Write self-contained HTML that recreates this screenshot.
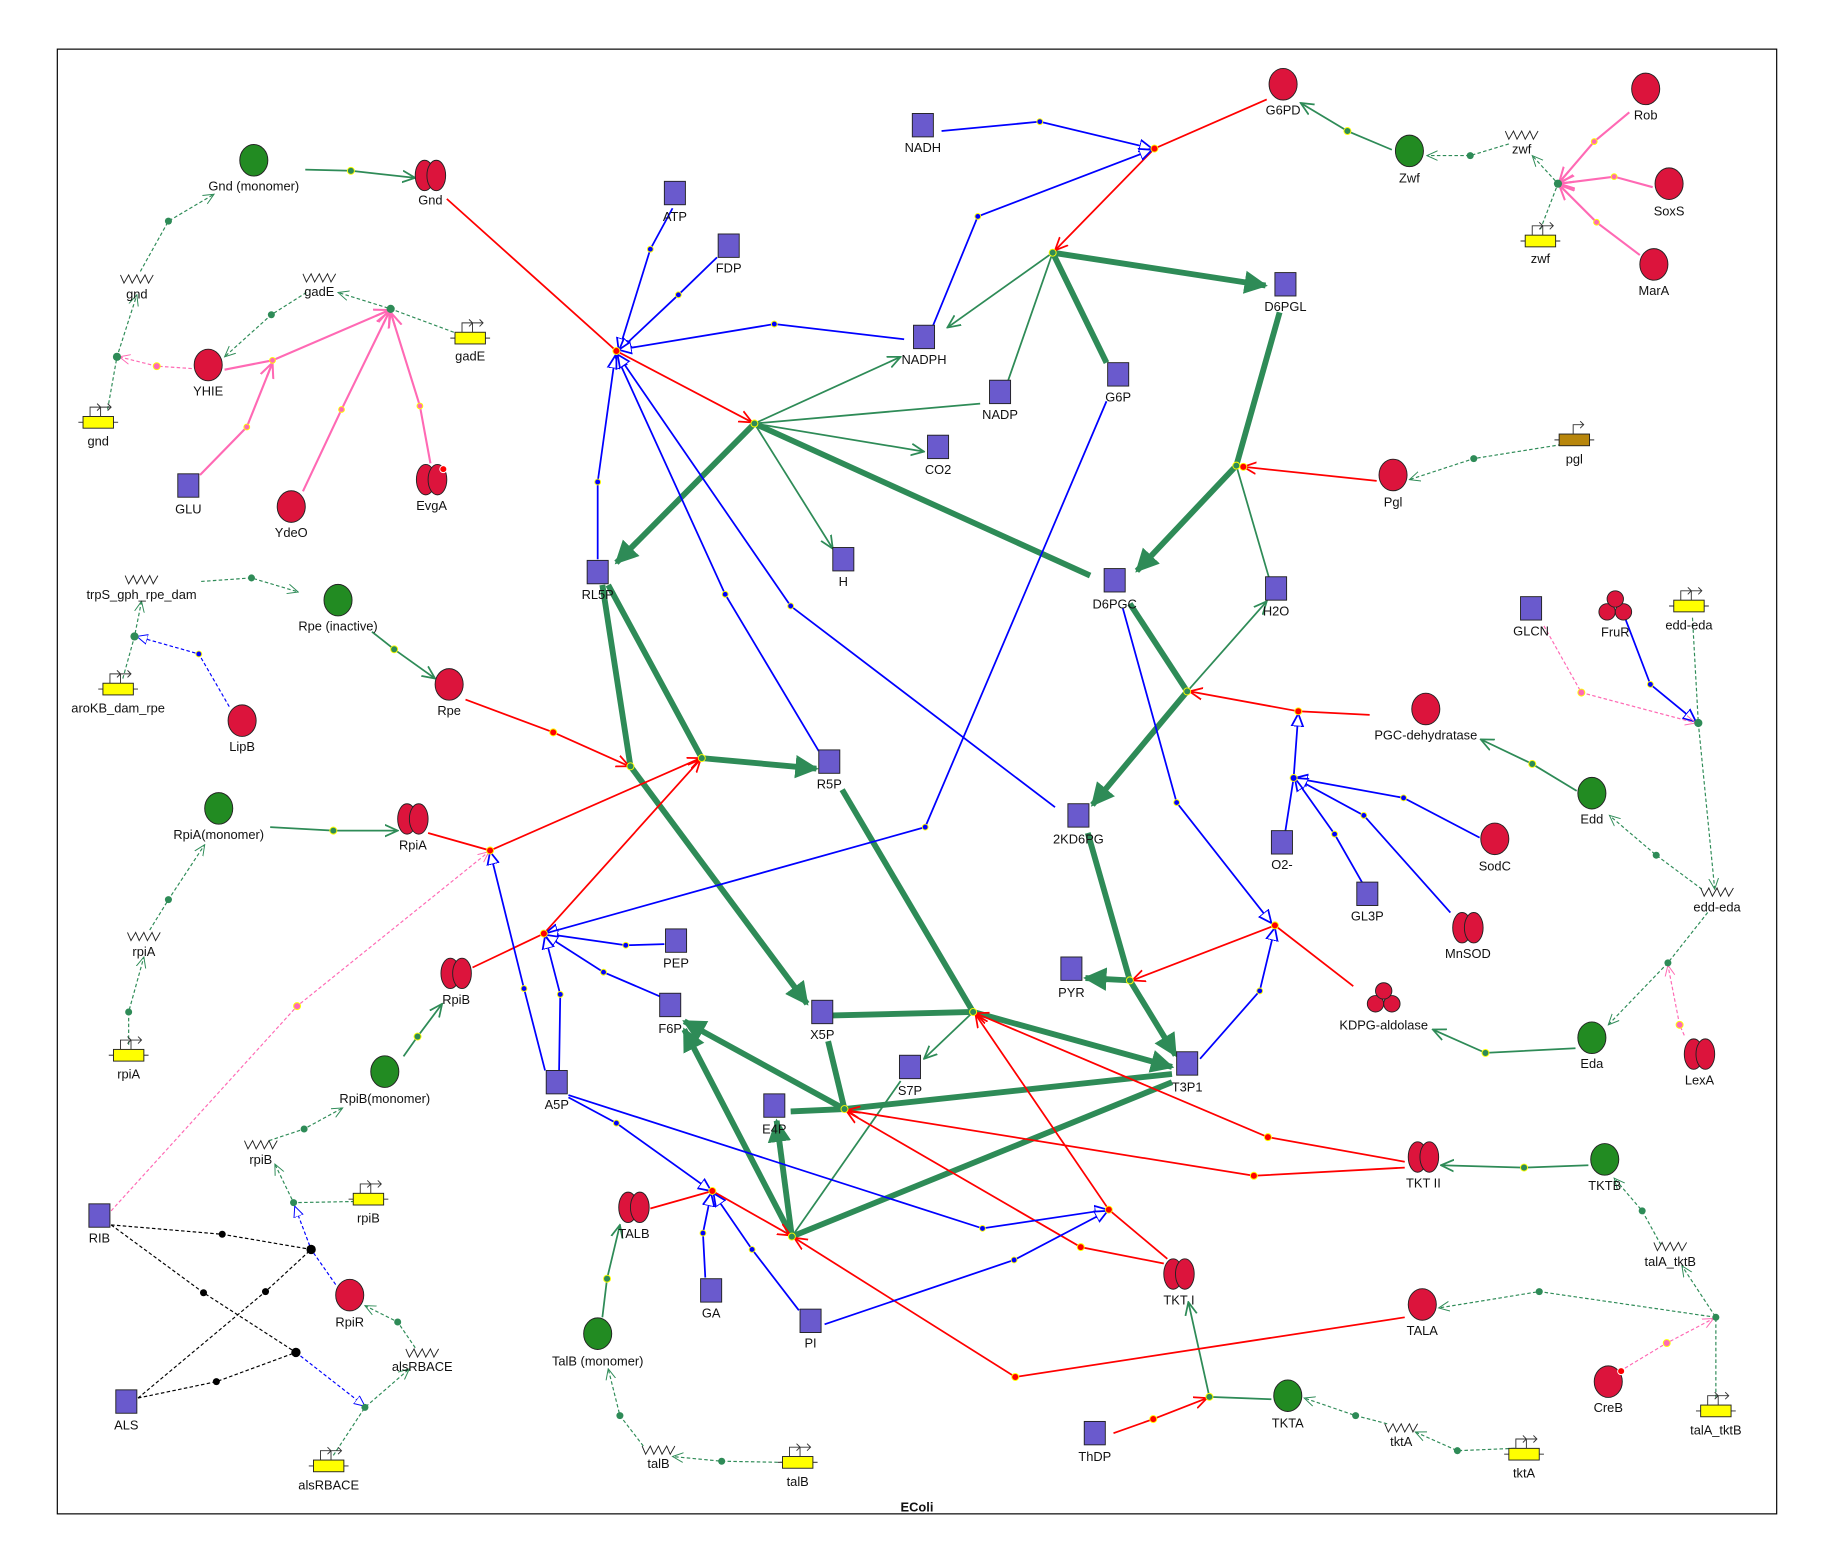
<!DOCTYPE html>
<html><head><meta charset="utf-8"><style>
html,body{margin:0;padding:0;background:#fff}
svg{display:block}
text{font-family:"Liberation Sans",Arial,sans-serif;font-size:11px;fill:#111;text-anchor:middle}
</style></head><body>
<svg width="1834" height="1563" viewBox="0 0 1568 1336" preserveAspectRatio="none" xmlns="http://www.w3.org/2000/svg">
<defs>
<marker id="ag" viewBox="0 0 12 12" refX="11" refY="6" markerWidth="12" markerHeight="12" markerUnits="userSpaceOnUse" orient="auto"><path d="M0,1 L11,6 L0,11" fill="none" stroke="#2e8b57" stroke-width="1.5"/></marker>
<marker id="agt" viewBox="0 0 10 10" refX="9" refY="5" markerWidth="4" markerHeight="4" orient="auto"><path d="M0,0 L10,5 L0,10 z" fill="#2e8b57"/></marker>
<marker id="ar" viewBox="0 0 12 12" refX="11" refY="6" markerWidth="12" markerHeight="12" markerUnits="userSpaceOnUse" orient="auto"><path d="M0,1 L11,6 L0,11" fill="none" stroke="#f00" stroke-width="1.5"/></marker>
<marker id="ab" viewBox="0 0 12 12" refX="11" refY="6" markerWidth="12" markerHeight="12" markerUnits="userSpaceOnUse" orient="auto"><path d="M0,1 L11,6 L0,11 z" fill="#fff" stroke="#00f" stroke-width="1.5"/></marker>
<marker id="ap" viewBox="0 0 12 12" refX="11" refY="6" markerWidth="14" markerHeight="14" markerUnits="userSpaceOnUse" orient="auto"><path d="M0,1 L11,6 L0,11 M0,6 L11,6" fill="none" stroke="#ff69b4" stroke-width="1.5"/></marker>
<marker id="apd" viewBox="0 0 12 12" refX="11" refY="6" markerWidth="10" markerHeight="10" markerUnits="userSpaceOnUse" orient="auto"><path d="M0,1 L11,6 L0,11" fill="none" stroke="#ff69b4" stroke-width="1"/></marker>
<marker id="agd" viewBox="0 0 12 12" refX="11" refY="6" markerWidth="10" markerHeight="10" markerUnits="userSpaceOnUse" orient="auto"><path d="M0,1 L11,6 L0,11" fill="none" stroke="#2e8b57" stroke-width="1"/></marker>
<marker id="abd" viewBox="0 0 12 12" refX="11" refY="6" markerWidth="10" markerHeight="10" markerUnits="userSpaceOnUse" orient="auto"><path d="M0,1 L11,6 L0,11 z" fill="#fff" stroke="#00f" stroke-width="1"/></marker>
<g id="sq"><rect x="-9" y="-10" width="18" height="20" fill="#6a5acd" stroke="#222" stroke-width="0.8"/></g>
<g id="rc"><ellipse rx="12" ry="13.5" fill="#dc143c" stroke="#222" stroke-width="0.8"/></g>
<g id="gc"><ellipse rx="12" ry="13.5" fill="#228b22" stroke="#222" stroke-width="0.8"/></g>
<g id="dm"><ellipse cx="-5" rx="8" ry="13" fill="#dc143c" stroke="#222" stroke-width="0.8"/><ellipse cx="5" rx="8" ry="13" fill="#dc143c" stroke="#222" stroke-width="0.8"/></g>
<g id="tr"><circle cx="-7" cy="5" r="7" fill="#dc143c" stroke="#222" stroke-width="0.8"/><circle cx="7" cy="5" r="7" fill="#dc143c" stroke="#222" stroke-width="0.8"/><circle cx="0" cy="-6" r="7" fill="#dc143c" stroke="#222" stroke-width="0.8"/></g>
<g id="gn"><line x1="-17" y1="0" x2="17" y2="0" stroke="#555"/><rect x="-13" y="-5" width="26" height="10" fill="#ff0" stroke="#222" stroke-width="0.8"/><path d="M-7,-5 V-13 H2 M-1,-16 L2,-13 L-1,-10 M2,-5 V-13 H11 M8,-16 L11,-13 L8,-10" fill="none" stroke="#333" stroke-width="0.8"/></g>
<g id="gnb"><line x1="-17" y1="0" x2="17" y2="0" stroke="#555"/><rect x="-13" y="-5" width="26" height="10" fill="#b8860b" stroke="#222" stroke-width="0.8"/><path d="M-1,-5 V-13 H8 M5,-16 L8,-13 L5,-10" fill="none" stroke="#333" stroke-width="0.8"/></g>
<g id="mr"><polyline points="-14,-4 -11,3 -7,-4 -4,3 0,-4 3,3 7,-4 10,3 14,-4" fill="none" stroke="#222" stroke-width="0.8"/></g>
</defs>
<rect x="49" y="42" width="1470" height="1252" fill="none" stroke="#000" stroke-width="1"/>
<text x="784" y="1292" style="font-weight:bold">EColi</text>

<g fill="none" stroke="#2e8b57" stroke-width="5">
<path d="M900,216 L1082,244" marker-end="url(#agt)"/>
<path d="M900,216 L946,310"/>
<path d="M1094,267 L1057,398"/>
<path d="M1057,398 L972,488" marker-end="url(#agt)"/>
<path d="M932,492 L645,362"/>
<path d="M645,362 L527,481" marker-end="url(#agt)"/>
<path d="M515,500 L539,655"/>
<path d="M539,655 L690,858" marker-end="url(#agt)"/>
<path d="M520,500 L600,648"/>
<path d="M600,648 L698,657" marker-end="url(#agt)"/>
<path d="M712,868 L832,865"/>
<path d="M832,865 L1002,912" marker-end="url(#agt)"/>
<path d="M720,675 L832,865"/>
<path d="M708,890 L722,948"/>
<path d="M722,948 L585,873" marker-end="url(#agt)"/>
<path d="M722,948 L1002,918"/>
<path d="M676,950 L722,948"/>
<path d="M1002,925 L677,1057"/>
<path d="M677,1057 L585,880" marker-end="url(#agt)"/>
<path d="M677,1057 L664,958" marker-end="url(#agt)"/>
<path d="M966,516 L1015,591"/>
<path d="M1015,591 L934,688" marker-end="url(#agt)"/>
<path d="M930,712 L966,838"/>
<path d="M966,838 L1005,902" marker-end="url(#agt)"/>
<path d="M966,838 L928,836" marker-end="url(#agt)"/>
</g>
<g fill="none" stroke="#2e8b57" stroke-width="1.5">
<path d="M645,362 L770,305" marker-end="url(#ag)"/>
<path d="M645,362 L838,345"/>
<path d="M645,362 L790,386" marker-end="url(#ag)"/>
<path d="M645,362 L712,469" marker-end="url(#ag)"/>
<path d="M900,216 L810,280" marker-end="url(#ag)"/>
<path d="M900,216 L862,325"/>
<path d="M1057,398 L1085,494"/>
<path d="M1015,591 L1083,514" marker-end="url(#ag)"/>
<path d="M832,865 L790,905" marker-end="url(#ag)"/>
<path d="M677,1057 L770,924"/>
<path d="M1190,128 L1152,112 L1112,88" marker-end="url(#ag)"/>
<path d="M261,145 L300,146 L355,152" marker-end="url(#ag)"/>
<path d="M318,540 L337,555 L372,580" marker-end="url(#ag)"/>
<path d="M231,707 L285,710 L340,710" marker-end="url(#ag)"/>
<path d="M345,903 L357,886 L378,858" marker-end="url(#ag)"/>
<path d="M515,1126 L519,1093 L530,1047" marker-end="url(#ag)"/>
<path d="M1087,1196 L1034,1194 L1016,1113" marker-end="url(#ag)"/>
<path d="M1358,996 L1303,998 L1232,996" marker-end="url(#ag)"/>
<path d="M1348,676 L1310,653 L1266,632" marker-end="url(#ag)"/>
<path d="M1347,896 L1270,900 L1225,880" marker-end="url(#ag)"/>
</g>
<g fill="none" stroke="#2e8b57" stroke-width="1" stroke-dasharray="3,2">
<path d="M1290,123 L1257,133 L1220,133" marker-end="url(#agd)"/>
<path d="M1317,196 L1332,157 L1310,133" marker-end="url(#agd)"/>
<path d="M1335,380 L1260,392 L1205,410" marker-end="url(#agd)"/>
<path d="M92,350 L100,305 L117,252" marker-end="url(#agd)"/>
<path d="M120,232 L144,189 L183,166" marker-end="url(#agd)"/>
<path d="M388,284 L334,264 L289,250" marker-end="url(#agd)"/>
<path d="M262,250 L232,269 L192,305" marker-end="url(#agd)"/>
<path d="M105,580 L115,544 L121,514" marker-end="url(#agd)"/>
<path d="M172,497 L215,494 L255,506" marker-end="url(#agd)"/>
<path d="M110,893 L110,865 L123,818" marker-end="url(#agd)"/>
<path d="M128,795 L144,769 L175,722" marker-end="url(#agd)"/>
<path d="M303,1027 L251,1028 L235,995" marker-end="url(#agd)"/>
<path d="M230,975 L260,965 L293,947" marker-end="url(#agd)"/>
<path d="M285,1244 L312,1203 L350,1170" marker-end="url(#agd)"/>
<path d="M355,1152 L340,1130 L312,1116" marker-end="url(#agd)"/>
<path d="M670,1250 L617,1249 L575,1245" marker-end="url(#agd)"/>
<path d="M550,1236 L530,1210 L520,1170" marker-end="url(#agd)"/>
<path d="M1295,1238 L1246,1240 L1210,1224" marker-end="url(#agd)"/>
<path d="M1186,1217 L1159,1210 L1115,1195" marker-end="url(#agd)"/>
<path d="M1420,1064 L1404,1035 L1380,1007" marker-end="url(#agd)"/>
<path d="M1467,1195 L1467,1126 L1438,1082" marker-end="url(#agd)"/>
<path d="M1467,1126 L1316,1104 L1230,1118" marker-end="url(#agd)"/>
<path d="M1447,528 L1452,618 L1466,760" marker-end="url(#agd)"/>
<path d="M1455,760 L1416,731 L1376,697" marker-end="url(#agd)"/>
<path d="M1460,780 L1426,823 L1375,876" marker-end="url(#agd)"/>
</g>
<g fill="none" stroke="#f00" stroke-width="1.5">
<path d="M382,170 L527,300 L643,361" marker-end="url(#ar)"/>
<path d="M1083,85 L987,127 L902,214" marker-end="url(#ar)"/>
<path d="M1177,411 L1063,399" marker-end="url(#ar)"/>
<path d="M398,598 L473,626 L538,655" marker-end="url(#ar)"/>
<path d="M366,712 L419,727 L599,648" marker-end="url(#ar)"/>
<path d="M404,827 L465,798 L599,649" marker-end="url(#ar)"/>
<path d="M1171,611 L1110,608 L1017,591" marker-end="url(#ar)"/>
<path d="M1157,843 L1090,791 L968,838" marker-end="url(#ar)"/>
<path d="M556,1033 L609,1018 L676,1056" marker-end="url(#ar)"/>
<path d="M1201,1126 L868,1177 L679,1058" marker-end="url(#ar)"/>
<path d="M1201,993 L1084,972 L834,866" marker-end="url(#ar)"/>
<path d="M1201,998 L1072,1005 L724,949" marker-end="url(#ar)"/>
<path d="M995,1080 L924,1066 L724,950" marker-end="url(#ar)"/>
<path d="M998,1076 L948,1034 L834,867" marker-end="url(#ar)"/>
<path d="M952,1225 L986,1213 L1032,1195" marker-end="url(#ar)"/>
</g>
<g fill="none" stroke="#00f" stroke-width="1.5">
<path d="M805,112 L889,104 L985,127" marker-end="url(#ab)"/>
<path d="M797,280 L836,185 L985,128" marker-end="url(#ab)"/>
<path d="M575,178 L556,213 L529,300" marker-end="url(#ab)"/>
<path d="M613,220 L580,252 L529,300" marker-end="url(#ab)"/>
<path d="M773,290 L662,277 L529,299" marker-end="url(#ab)"/>
<path d="M511,478 L511,412 L526,304" marker-end="url(#ab)"/>
<path d="M700,642 L620,508 L527,304" marker-end="url(#ab)"/>
<path d="M902,690 L676,518 L528,303" marker-end="url(#ab)"/>
<path d="M946,343 L791,707 L466,798" marker-end="url(#ab)"/>
<path d="M568,807 L535,808 L466,798" marker-end="url(#ab)"/>
<path d="M565,852 L516,831 L466,799" marker-end="url(#ab)"/>
<path d="M478,915 L479,850 L466,800" marker-end="url(#ab)"/>
<path d="M466,915 L448,845 L419,728" marker-end="url(#ab)"/>
<path d="M486,938 L527,960 L608,1018" marker-end="url(#ab)"/>
<path d="M603,1092 L601,1054 L608,1020" marker-end="url(#ab)"/>
<path d="M683,1120 L643,1068 L610,1020" marker-end="url(#ab)"/>
<path d="M486,936 L840,1050 L947,1034" marker-end="url(#ab)"/>
<path d="M705,1132 L867,1077 L947,1035" marker-end="url(#ab)"/>
<path d="M1099,710 L1106,665 L1110,610" marker-end="url(#ab)"/>
<path d="M1265,716 L1200,682 L1107,665" marker-end="url(#ab)"/>
<path d="M1165,755 L1141,713 L1107,665" marker-end="url(#ab)"/>
<path d="M1240,780 L1166,697 L1107,665" marker-end="url(#ab)"/>
<path d="M960,520 L1006,686 L1087,789" marker-end="url(#ab)"/>
<path d="M1026,905 L1077,847 L1090,793" marker-end="url(#ab)"/>
<path d="M1390,530 L1411,585 L1450,617" marker-end="url(#ab)"/>
</g>
<g fill="none" stroke="#00f" stroke-width="1" stroke-dasharray="3,2">
<path d="M196,604 L170,559 L117,544" marker-end="url(#abd)"/>
<path d="M287,1098 L266,1068 L252,1031" marker-end="url(#abd)"/>
<path d="M253,1156 L312,1202" marker-end="url(#abd)"/>
</g>
<g fill="none" stroke="#ff69b4" stroke-width="1.8">
<path d="M1393,96 L1363,121 L1333,156" marker-end="url(#ap)"/>
<path d="M1413,160 L1380,151 L1333,157" marker-end="url(#ap)"/>
<path d="M1402,218 L1365,190 L1333,158" marker-end="url(#ap)"/>
<path d="M192,316 L233,308 L333,265" marker-end="url(#ap)"/>
<path d="M171,406 L211,365 L233,310" marker-end="url(#ap)"/>
<path d="M259,420 L292,350 L333,266" marker-end="url(#ap)"/>
<path d="M368,396 L359,347 L334,267" marker-end="url(#ap)"/>
</g>
<g fill="none" stroke="#ff69b4" stroke-width="1" stroke-dasharray="3,2">
<path d="M164,315 L134,313 L102,305" marker-end="url(#apd)"/>
<path d="M95,1035 L254,860 L418,728" marker-end="url(#apd)"/>
<path d="M1320,535 L1352,592 L1450,618" marker-end="url(#apd)"/>
<path d="M1440,885 L1436,876 L1426,825" marker-end="url(#apd)"/>
<path d="M1385,1172 L1425,1148 L1465,1127" marker-end="url(#apd)"/>
</g>
<g fill="none" stroke="#000" stroke-width="1" stroke-dasharray="3,2">
<path d="M95,1047 L190,1055 L266,1068"/>
<path d="M95,1047 L174,1105 L253,1156"/>
<path d="M118,1195 L185,1181 L253,1156"/>
<path d="M118,1195 L227,1104 L266,1068"/>
</g>
<g stroke="#ff0" stroke-width="0.8">
<g fill="#2e8b57"><circle cx="900" cy="216" r="3"/><circle cx="645" cy="362" r="3"/><circle cx="1057" cy="398" r="3"/><circle cx="539" cy="655" r="3"/><circle cx="600" cy="648" r="3"/><circle cx="832" cy="865" r="3"/><circle cx="722" cy="948" r="3"/><circle cx="677" cy="1057" r="3"/><circle cx="1015" cy="591" r="3"/><circle cx="966" cy="838" r="3"/><circle cx="1152" cy="112" r="3"/><circle cx="300" cy="146" r="3"/><circle cx="337" cy="555" r="3"/><circle cx="285" cy="710" r="3"/><circle cx="357" cy="886" r="3"/><circle cx="519" cy="1093" r="3"/><circle cx="1034" cy="1194" r="3"/><circle cx="1303" cy="998" r="3"/><circle cx="1310" cy="653" r="3"/><circle cx="1270" cy="900" r="3"/></g>
<g fill="#2e8b57" stroke="none"><circle cx="1257" cy="133" r="3"/><circle cx="1332" cy="157" r="3.5"/><circle cx="1260" cy="392" r="3"/><circle cx="100" cy="305" r="3.5"/><circle cx="144" cy="189" r="3"/><circle cx="334" cy="264" r="3.5"/><circle cx="232" cy="269" r="3"/><circle cx="115" cy="544" r="3.5"/><circle cx="215" cy="494" r="3"/><circle cx="110" cy="865" r="3"/><circle cx="144" cy="769" r="3"/><circle cx="251" cy="1028" r="3"/><circle cx="260" cy="965" r="3"/><circle cx="312" cy="1203" r="3"/><circle cx="340" cy="1130" r="3"/><circle cx="617" cy="1249" r="3"/><circle cx="530" cy="1210" r="3"/><circle cx="1246" cy="1240" r="3"/><circle cx="1159" cy="1210" r="3"/><circle cx="1404" cy="1035" r="3"/><circle cx="1467" cy="1126" r="3"/><circle cx="1316" cy="1104" r="3"/><circle cx="1452" cy="618" r="3.5"/><circle cx="1416" cy="731" r="3"/><circle cx="1426" cy="823" r="3"/></g>
<g fill="#f00"><circle cx="527" cy="300" r="3"/><circle cx="987" cy="127" r="3"/><circle cx="1063" cy="399" r="3"/><circle cx="473" cy="626" r="3"/><circle cx="419" cy="727" r="3"/><circle cx="465" cy="798" r="3"/><circle cx="1110" cy="608" r="3"/><circle cx="1090" cy="791" r="3"/><circle cx="609" cy="1018" r="3"/><circle cx="868" cy="1177" r="3"/><circle cx="1084" cy="972" r="3"/><circle cx="1072" cy="1005" r="3"/><circle cx="924" cy="1066" r="3"/><circle cx="948" cy="1034" r="3"/><circle cx="986" cy="1213" r="3"/></g>
<g fill="#00f"><circle cx="889" cy="104" r="2.5"/><circle cx="836" cy="185" r="2.5"/><circle cx="556" cy="213" r="2.5"/><circle cx="580" cy="252" r="2.5"/><circle cx="662" cy="277" r="2.5"/><circle cx="511" cy="412" r="2.5"/><circle cx="620" cy="508" r="2.5"/><circle cx="676" cy="518" r="2.5"/><circle cx="791" cy="707" r="2.5"/><circle cx="535" cy="808" r="2.5"/><circle cx="516" cy="831" r="2.5"/><circle cx="479" cy="850" r="2.5"/><circle cx="448" cy="845" r="2.5"/><circle cx="527" cy="960" r="2.5"/><circle cx="601" cy="1054" r="2.5"/><circle cx="643" cy="1068" r="2.5"/><circle cx="840" cy="1050" r="2.5"/><circle cx="867" cy="1077" r="2.5"/><circle cx="1106" cy="665" r="3"/><circle cx="1200" cy="682" r="2.5"/><circle cx="1141" cy="713" r="2.5"/><circle cx="1166" cy="697" r="2.5"/><circle cx="1006" cy="686" r="2.5"/><circle cx="1077" cy="847" r="2.5"/><circle cx="1411" cy="585" r="2.5"/><circle cx="170" cy="559" r="2.5"/></g>
<g fill="#ff69b4"><circle cx="1363" cy="121" r="2.5"/><circle cx="1380" cy="151" r="2.5"/><circle cx="1365" cy="190" r="2.5"/><circle cx="233" cy="308" r="2.5"/><circle cx="211" cy="365" r="2.5"/><circle cx="292" cy="350" r="2.5"/><circle cx="359" cy="347" r="2.5"/><circle cx="134" cy="313" r="3"/><circle cx="254" cy="860" r="3"/><circle cx="1352" cy="592" r="3"/><circle cx="1436" cy="876" r="3"/><circle cx="1425" cy="1148" r="3"/></g>
<g fill="#000" stroke="none"><circle cx="190" cy="1055" r="3"/><circle cx="174" cy="1105" r="3"/><circle cx="185" cy="1181" r="3"/><circle cx="227" cy="1104" r="3"/><circle cx="266" cy="1068" r="4"/><circle cx="253" cy="1156" r="4"/></g>
</g>

<use href="#sq" x="789" y="107"/><text x="789" y="130">NADH</text>
<use href="#sq" x="577" y="165"/><text x="577" y="189">ATP</text>
<use href="#sq" x="623" y="210"/><text x="623" y="233">FDP</text>
<use href="#sq" x="790" y="288"/><text x="790" y="311">NADPH</text>
<use href="#sq" x="855" y="335"/><text x="855" y="358">NADP</text>
<use href="#sq" x="956" y="320"/><text x="956" y="343">G6P</text>
<use href="#sq" x="1099" y="243"/><text x="1099" y="266">D6PGL</text>
<use href="#sq" x="802" y="382"/><text x="802" y="405">CO2</text>
<use href="#sq" x="721" y="478"/><text x="721" y="501">H</text>
<use href="#sq" x="511" y="489"/><text x="511" y="512">RL5P</text>
<use href="#sq" x="953" y="496"/><text x="953" y="520">D6PGC</text>
<use href="#sq" x="1091" y="503"/><text x="1091" y="526">H2O</text>
<use href="#sq" x="1309" y="520"/><text x="1309" y="543">GLCN</text>
<use href="#sq" x="709" y="651"/><text x="709" y="674">R5P</text>
<use href="#sq" x="922" y="697"/><text x="922" y="721">2KD6PG</text>
<use href="#sq" x="1096" y="720"/><text x="1096" y="743">O2-</text>
<use href="#sq" x="1169" y="764"/><text x="1169" y="787">GL3P</text>
<use href="#sq" x="916" y="828"/><text x="916" y="852">PYR</text>
<use href="#sq" x="578" y="804"/><text x="578" y="827">PEP</text>
<use href="#sq" x="573" y="859"/><text x="573" y="883">F6P</text>
<use href="#sq" x="703" y="865"/><text x="703" y="888">X5P</text>
<use href="#sq" x="778" y="912"/><text x="778" y="936">S7P</text>
<use href="#sq" x="1015" y="909"/><text x="1015" y="933">T3P1</text>
<use href="#sq" x="662" y="945"/><text x="662" y="969">E4P</text>
<use href="#sq" x="476" y="925"/><text x="476" y="948">A5P</text>
<use href="#sq" x="608" y="1103"/><text x="608" y="1126">GA</text>
<use href="#sq" x="693" y="1129"/><text x="693" y="1152">PI</text>
<use href="#sq" x="85" y="1039"/><text x="85" y="1062">RIB</text>
<use href="#sq" x="108" y="1198"/><text x="108" y="1222">ALS</text>
<use href="#sq" x="936" y="1225"/><text x="936" y="1249">ThDP</text>
<use href="#sq" x="161" y="415"/><text x="161" y="439">GLU</text>

<use href="#rc" x="1097" y="72"/><text x="1097" y="98">G6PD</text>
<use href="#rc" x="1407" y="76"/><text x="1407" y="102">Rob</text>
<use href="#rc" x="1427" y="157"/><text x="1427" y="184">SoxS</text>
<use href="#rc" x="1414" y="226"/><text x="1414" y="252">MarA</text>
<use href="#rc" x="178" y="312"/><text x="178" y="338">YHIE</text>
<use href="#rc" x="249" y="433"/><text x="249" y="459">YdeO</text>
<use href="#rc" x="1191" y="406"/><text x="1191" y="433">Pgl</text>
<use href="#rc" x="207" y="616"/><text x="207" y="642">LipB</text>
<use href="#rc" x="384" y="585"/><text x="384" y="611">Rpe</text>
<use href="#rc" x="1219" y="606"/><text x="1219" y="632">PGC-dehydratase</text>
<use href="#rc" x="1278" y="717"/><text x="1278" y="744">SodC</text>
<use href="#rc" x="299" y="1107"/><text x="299" y="1134">RpiR</text>
<use href="#rc" x="1216" y="1115"/><text x="1216" y="1141">TALA</text>
<use href="#rc" x="1375" y="1181"/><text x="1375" y="1207">CreB</text>
<circle cx="1386" cy="1172" r="3" fill="#f00" stroke="#fff" stroke-width="0.8"/>

<use href="#gc" x="217" y="137"/><text x="217" y="163">Gnd (monomer)</text>
<use href="#gc" x="1205" y="129"/><text x="1205" y="156">Zwf</text>
<use href="#gc" x="289" y="513"/><text x="289" y="539">Rpe (inactive)</text>
<use href="#gc" x="187" y="691"/><text x="187" y="717">RpiA(monomer)</text>
<use href="#gc" x="329" y="916"/><text x="329" y="943">RpiB(monomer)</text>
<use href="#gc" x="1361" y="678"/><text x="1361" y="704">Edd</text>
<use href="#gc" x="1361" y="887"/><text x="1361" y="913">Eda</text>
<use href="#gc" x="511" y="1140"/><text x="511" y="1167">TalB (monomer)</text>
<use href="#gc" x="1372" y="991"/><text x="1372" y="1017">TKTB</text>
<use href="#gc" x="1101" y="1193"/><text x="1101" y="1220">TKTA</text>

<use href="#dm" x="368" y="150"/><text x="368" y="175">Gnd</text>
<use href="#dm" x="369" y="410"/><text x="369" y="436">EvgA</text>
<circle cx="379" cy="401" r="3" fill="#f00" stroke="#fff" stroke-width="0.8"/>
<use href="#dm" x="353" y="700"/><text x="353" y="726">RpiA</text>
<use href="#dm" x="390" y="832"/><text x="390" y="858">RpiB</text>
<use href="#dm" x="542" y="1032"/><text x="542" y="1058">TALB</text>
<use href="#dm" x="1217" y="989"/><text x="1217" y="1015">TKT II</text>
<use href="#dm" x="1008" y="1089"/><text x="1008" y="1115">TKT I</text>
<use href="#dm" x="1255" y="793"/><text x="1255" y="819">MnSOD</text>
<use href="#dm" x="1453" y="901"/><text x="1453" y="927">LexA</text>
<use href="#tr" x="1381" y="518"/><text x="1381" y="544">FruR</text>
<use href="#tr" x="1183" y="853"/><text x="1183" y="880">KDPG-aldolase</text>

<use href="#gn" x="84" y="361"/><text x="84" y="381">gnd</text>
<use href="#gn" x="402" y="289"/><text x="402" y="308">gadE</text>
<use href="#gn" x="1317" y="206"/><text x="1317" y="225">zwf</text>
<use href="#gnb" x="1346" y="376"/><text x="1346" y="396">pgl</text>
<use href="#gn" x="101" y="589"/><text x="101" y="609">aroKB_dam_rpe</text>
<use href="#gn" x="1444" y="518"/><text x="1444" y="538">edd-eda</text>
<use href="#gn" x="110" y="902"/><text x="110" y="922">rpiA</text>
<use href="#gn" x="315" y="1025"/><text x="315" y="1045">rpiB</text>
<use href="#gn" x="281" y="1253"/><text x="281" y="1273">alsRBACE</text>
<use href="#gn" x="682" y="1250"/><text x="682" y="1270">talB</text>
<use href="#gn" x="1303" y="1243"/><text x="1303" y="1263">tktA</text>
<use href="#gn" x="1467" y="1206"/><text x="1467" y="1226">talA_tktB</text>

<use href="#mr" x="117" y="239"/><text x="117" y="255">gnd</text>
<use href="#mr" x="273" y="238"/><text x="273" y="253">gadE</text>
<use href="#mr" x="1301" y="116"/><text x="1301" y="131">zwf</text>
<use href="#mr" x="121" y="496"/><text x="121" y="512">trpS_gph_rpe_dam</text>
<use href="#mr" x="123" y="801"/><text x="123" y="817">rpiA</text>
<use href="#mr" x="223" y="979"/><text x="223" y="995">rpiB</text>
<use href="#mr" x="361" y="1157"/><text x="361" y="1172">alsRBACE</text>
<use href="#mr" x="563" y="1240"/><text x="563" y="1255">talB</text>
<use href="#mr" x="1198" y="1221"/><text x="1198" y="1236">tktA</text>
<use href="#mr" x="1428" y="1066"/><text x="1428" y="1082">talA_tktB</text>
<use href="#mr" x="1468" y="763"/><text x="1468" y="779">edd-eda</text>
</svg>
</body></html>
